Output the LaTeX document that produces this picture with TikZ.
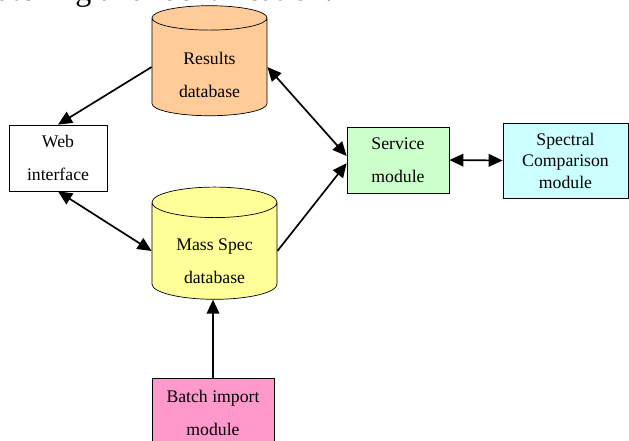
\documentclass[tikz,border=0pt]{standalone}
\usepackage{fontspec}
\setmainfont{Liberation Serif}
\usetikzlibrary{shapes.geometric,arrows.meta}
\definecolor{resorange}{HTML}{FFCC99}
\definecolor{msyellow}{HTML}{FFFF99}
\definecolor{svcgreen}{HTML}{CCFFCC}
\definecolor{spccyan}{HTML}{CCFFFF}
\definecolor{batchpink}{HTML}{FF99CC}
% text set lower in the cylinder body
\newcommand{\dbtext}[2]{\raisebox{#1}[\height][\depth]{\begin{tabular}{@{}c@{}}#2\end{tabular}}}
\begin{document}
\begin{tikzpicture}[x=0.025cm,y=-0.025cm,
  box/.style={draw,line width=0.5pt,inner sep=0pt,align=center,font=\fontsize{12.6}{23.5}\selectfont},
  dbase/.style={draw,line width=0.5pt,cylinder,shape border rotate=90,aspect=0.4,inner sep=0pt,font=\fontsize{12.6}{23.5}\selectfont},
  arr/.style={line width=1.2pt,-{Triangle[length=10pt,width=9pt]}},
  dblarr/.style={line width=1.2pt,{Triangle[length=10pt,width=9pt]}-{Triangle[length=10pt,width=9pt]}}]
\useasboundingbox (0,0) rectangle (629,440);
\node[anchor=base east,inner sep=0pt,font=\fontsize{22.8}{26}\selectfont](caption) at (333,0.5) {atching and identification.};
%
\node[dbase,fill=resorange,minimum width=2.875cm,minimum height=2.75cm](res) at (209.5,67) {\dbtext{-0.18cm}{Results\\database}};
%
\node[box,minimum width=2.45cm,minimum height=1.65cm](web) at (58,158) {Web\\interface};
\draw[arr](res.west) -- (web.north);
%
\node[dbase,fill=msyellow,minimum width=3.125cm,minimum height=2.8cm](ms) at (214.5,251) {\dbtext{-0.24cm}{Mass Spec\\database}};
\draw[dblarr](web.south) -- (ms.west);
%
\node[box,fill=svcgreen,minimum width=2.55cm,minimum height=1.65cm](svc) at (398,160) {Service\\module};
\draw[dblarr](res.east) -- ([yshift=0.1cm]svc.west);
\draw[arr](ms.east) -- ([yshift=-0.08cm]svc.west);
%
\node[box,fill=spccyan,minimum width=3.125cm,minimum height=1.875cm,font=\fontsize{12.6}{15.3}\selectfont](spc) at (565.5,160.5) {Spectral\\Comparison\\module};
\draw[dblarr](svc.east) -- (spc.west);
%
\node[box,fill=batchpink,minimum width=3.05cm,minimum height=1.75cm](batch) at (213,413) {Batch import\\module};
\draw[arr](batch.north) -- (batch.north |- ms.south);
\end{tikzpicture}
\end{document}
